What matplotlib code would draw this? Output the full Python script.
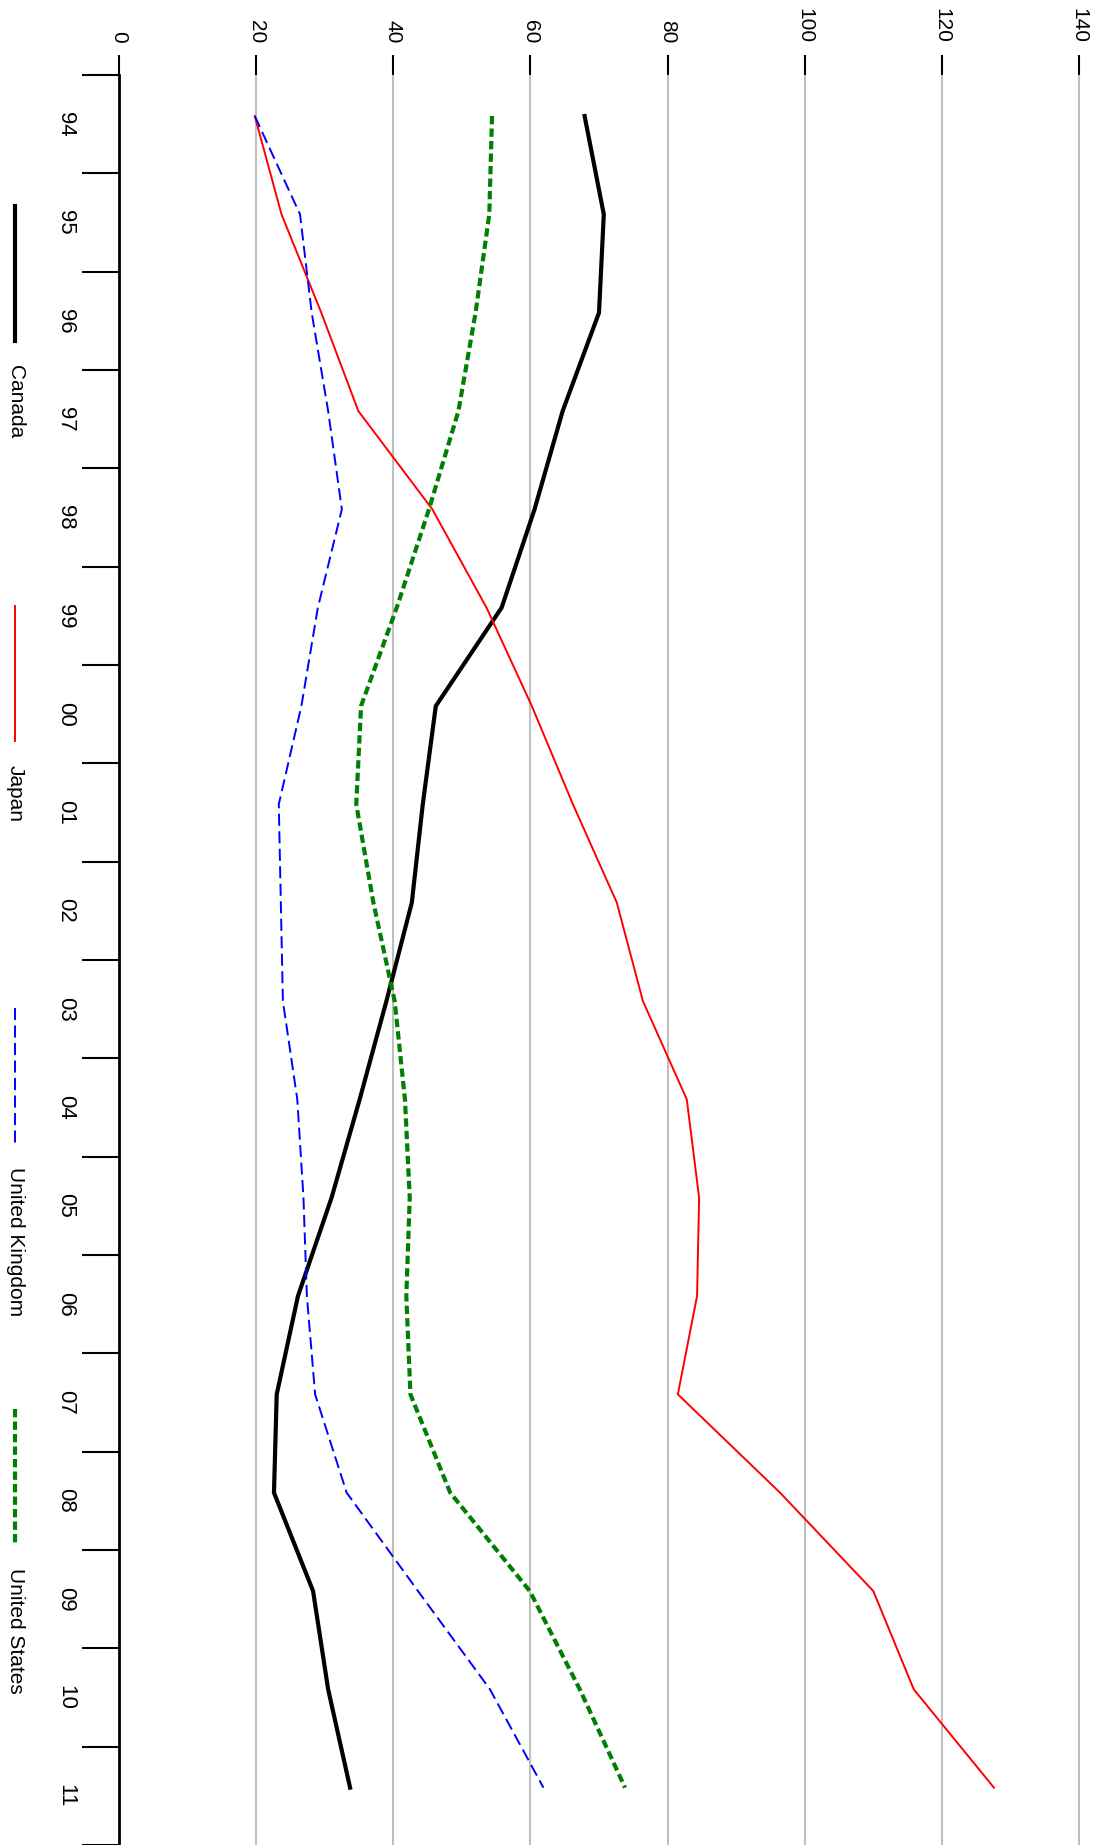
import numpy as np
import matplotlib
matplotlib.use('Agg')
import matplotlib.pyplot as plt
from matplotlib.lines import Line2D

plt.rcParams['font.family'] = ['Liberation Sans', 'DejaVu Sans']

years = ['94', '95', '96', '97', '98', '99', '00', '01', '02', '03',
         '04', '05', '06', '07', '08', '09', '10', '11']
canada = [67.9, 70.7, 70.0, 64.7, 60.6, 55.8, 46.2, 44.3, 42.7, 39.0,
          35.1, 31.0, 26.1, 23.0, 22.6, 28.3, 30.5, 33.7]
japan = [19.8, 23.7, 29.5, 34.9, 45.7, 53.6, 60.2, 66.2, 72.6, 76.4,
         82.8, 84.6, 84.3, 81.5, 96.4, 110.0, 115.9, 127.6]
uk = [19.8, 26.4, 28.1, 30.5, 32.5, 29.0, 26.6, 23.3, 23.6, 23.9,
      26.0, 26.9, 27.4, 28.6, 33.2, 43.6, 54.1, 61.9]
us = [54.4, 54.0, 52.0, 49.5, 45.2, 40.5, 35.3, 34.6, 37.1, 40.2,
      41.7, 42.4, 41.9, 42.5, 48.3, 59.9, 67.2, 73.8]
value_ticks = [0, 20, 40, 60, 80, 100, 120, 140]

names = ['Canada', 'Japan', 'United Kingdom', 'United States']
styles = [dict(color='black', lw=3.0, ls='-'),
          dict(color='red', lw=1.4, ls='-'),
          dict(color='blue', lw=1.4, ls=(0, (6.2, 2.8))),
          dict(color='#008000', lw=3.0, ls=(0, (2.0, 1.0)))]

W, H = 1095, 1845
fig = plt.figure(figsize=(W / 100, H / 100), dpi=100)

# chart is drawn turned 90 degrees: values run left->right, years top->bottom
px_per_unit = 960 / 140
xmax = 142
ax = fig.add_axes([119 / W, 0, xmax * px_per_unit / W, 1 - 75 / H])

y = np.arange(len(years))
for vals, st in zip([canada, japan, uk, us], styles):
    ax.plot(vals, y, solid_joinstyle='miter', dash_capstyle='butt', **st)

ax.set_xlim(0, xmax)
ax.set_ylim(len(years) - 0.417, -0.417)

ax.xaxis.tick_top()
ax.set_xticks(value_ticks)
ax.set_xticklabels([str(v) for v in value_ticks], rotation=270, fontsize=15)
ax.tick_params(axis='x', length=14.4, width=1.5, pad=8.5, color='black')
ax.grid(axis='x', color='#c0c0c0', lw=1.5)
ax.set_axisbelow(True)

ax.set_yticks(y + 0.083)
ax.set_yticklabels(years, rotation=270, fontsize=16, va='center')
ax.set_yticks(np.arange(len(years) + 1) - 0.417, minor=True)
ax.tick_params(axis='y', which='major', length=0, pad=31)
ax.tick_params(axis='y', which='minor', length=26.6, width=1.5, color='black')

for s in ['top', 'right', 'bottom']:
    ax.spines[s].set_visible(False)
ax.spines['left'].set_linewidth(2.0)

# legend down the left edge
starts = [206, 606, 1008, 1409]
for name, st, y0 in zip(names, styles, starts):
    ln = Line2D([15 / W, 15 / W], [1 - y0 / H, 1 - (y0 + 135) / H],
                transform=fig.transFigure, dash_capstyle='butt', **st)
    fig.add_artist(ln)
    fig.text(15 / W, 1 - (y0 + 159) / H, name, rotation=270, fontsize=15,
             ha='center', va='top')

fig.savefig('out.png', dpi=100)
